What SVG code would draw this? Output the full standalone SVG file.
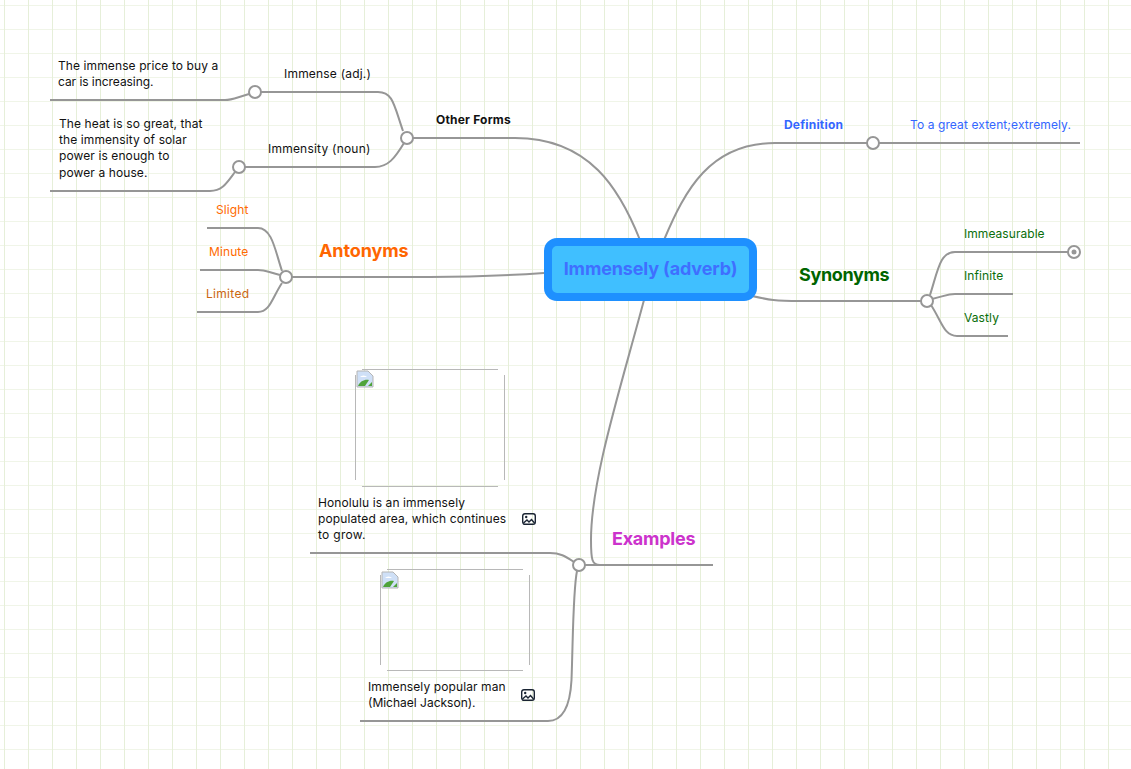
<svg xmlns="http://www.w3.org/2000/svg" width="1131" height="769" viewBox="0 0 1131 769">
<style>
text{font-family:Inter,"Noto Sans","Liberation Sans",sans-serif;font-size:12px;fill:#111;letter-spacing:.1px}
.b{font-weight:700;letter-spacing:.2px}
.big{font-weight:700;font-size:18px;letter-spacing:-.15px}
.g{fill:#0a6e0a}
.o{fill:#ff6a00}
.bl{fill:#3366ff}
.c{fill:none;stroke:#969696;stroke-width:2}
.n{fill:#fff;stroke:#969696;stroke-width:2}
.f{fill:none;stroke:#b8b8b8;stroke-width:1}
.i{fill:none;stroke:#1a2433;stroke-width:1.4}
.vg{stroke:#e6efd9;stroke-width:1}
.hg{stroke:#f0f5e8;stroke-width:1}
</style>
<defs>
<pattern id="vp" width="24" height="24" patternUnits="userSpaceOnUse"><path d="M0 5.5H24" class="hg"/><path d="M4.5 0V24" class="vg"/></pattern>
<g id="pic"><rect x="0.7" y="0.7" width="12.6" height="10.6" rx="2.2" class="i"/><circle cx="4.2" cy="4" r="1.2" fill="#1a2433"/><path d="M1.5 10L5 7l2 2 2.5-2.5L12.500 10" class="i"/></g>
<g id="broken"><path d="M0 0H11L16 5V16H0Z" fill="#cfe0f7" stroke="#b5b5b5" stroke-width="1"/><path d="M1 15C3 10 8 8 12 9L8 15Z" fill="#4fa33a"/><path d="M3 6a4 3 0 0 1 7 0Z" fill="#fff"/><path d="M11 15l4-4v4Z" fill="#4fa33a"/></g>
</defs>
<rect width="1131" height="769" fill="#fff"/>
<rect width="1131" height="769" fill="url(#vp)"/>
<g id="connectors">
<path class="c" d="M640 240C620 190 590 138 515 138H407"/>
<path class="c" d="M664 240C685 190 710 143 775 143H1080"/>
<path class="c" d="M544 273C500 276 470 277 430 277H286"/>
<path class="c" d="M752 296C770 300 775 301 800 301H927"/>
<path class="c" d="M644 300C620 390 591 480 591 540C591 560 592 565 600 565M579 565H713"/>
<path class="c" d="M403 131C394 105 393 92 378 92H255"/>
<path class="c" d="M404 143C395 158 388 167 375 167H239"/>
<path class="c" d="M249 94C235 98 232 100 225 100H50"/>
<path class="c" d="M235 172C226 184 222 191 210 191H50"/>
<path class="c" d="M282 271C275 250 272 228 258 228H207"/>
<path class="c" d="M280 275C268 272 265 270 258 270H200"/>
<path class="c" d="M282 283C272 298 270 312 258 312H197"/>
<path class="c" d="M930 295C938 270 940 252 955 252H1074"/>
<path class="c" d="M932 299C945 296 947 294 955 294H1013"/>
<path class="c" d="M931 305C942 322 944 336 957 336H1008"/>
<path class="c" d="M574 562C565 556 560 553 550 553H310"/>
<path class="c" d="M577 571C573 590 573 640 571.500 680C570 708 562 721 548 721H360"/>
</g>
<g id="center"><rect x="548" y="242" width="205" height="55" rx="9" fill="#40bfff" stroke="#1e90ff" stroke-width="8"/><text x="650.5" y="274.500" text-anchor="middle" class="big" style="fill:#3f6fff">Immensely (adverb)</text></g>
<g id="other-forms"><circle class="n" cx="407" cy="138" r="6"/><text x="436" y="123.500" class="b">Other Forms</text></g>
<g id="immense"><circle class="n" cx="255" cy="92" r="6"/><text x="284" y="77.500" style="letter-spacing:.2px">Immense (adj.)</text></g>
<g id="immensity"><circle class="n" cx="239" cy="167" r="6"/><text x="268" y="152.500" style="letter-spacing:.22px">Immensity (noun)</text></g>
<g id="immense-ex"><text x="58" y="70">The immense price to buy a</text><text x="58" y="86" style="letter-spacing:-.05px">car is increasing.</text></g>
<g id="immensity-ex"><text x="59" y="128">The heat is so great, that</text><text x="59" y="144">the immensity of solar</text><text x="59" y="160">power is enough to</text><text x="59" y="177">power a house.</text></g>
<g id="definition"><circle class="n" cx="873" cy="143" r="6"/><text x="784" y="129" class="b bl">Definition</text></g>
<g id="definition-text"><text x="910" y="129" class="bl">To a great extent;extremely.</text></g>
<g id="antonyms"><circle class="n" cx="286" cy="277" r="6"/><text x="319" y="257" class="big" style="fill:#ff6600;letter-spacing:-.1px">Antonyms</text></g>
<g id="slight"><text x="216" y="214" class="o">Slight</text></g>
<g id="minute"><text x="209" y="256" class="o">Minute</text></g>
<g id="limited"><text x="206" y="298" style="fill:#cc6610;letter-spacing:.3px">Limited</text></g>
<g id="synonyms"><circle class="n" cx="927" cy="301" r="6"/><text x="799" y="281" class="big" style="fill:#006400;letter-spacing:-.35px">Synonyms</text></g>
<g id="immeasurable"><circle class="n" cx="1074" cy="252" r="6"/><circle cx="1074" cy="252" r="2.500" fill="#969696"/><text x="964" y="238" class="g" style="letter-spacing:.05px">Immeasurable</text></g>
<g id="infinite"><text x="964" y="280" class="g">Infinite</text></g>
<g id="vastly"><text x="964" y="322" class="g">Vastly</text></g>
<g id="examples"><circle class="n" cx="579" cy="565" r="6"/><text x="612" y="545" class="big" style="fill:#cc33cc;letter-spacing:-.25px">Examples</text></g>
<g id="example-1">
<path class="f" d="M362 369.500H498M362 486.500H498M355.500 375V480M504.500 375V480"/>
<use href="#broken" x="357" y="371"/>
<text x="318" y="507">Honolulu is an immensely</text><text x="318" y="523" style="letter-spacing:.12px">populated area, which continues</text><text x="318" y="539" style="letter-spacing:.3px">to grow.</text>
<use href="#pic" x="522" y="513"/>
</g>
<g id="example-2">
<path class="f" d="M387 569.500H523M387 670.500H523M380.500 575V665M529.500 575V665"/>
<use href="#broken" x="382" y="572"/>
<text x="368" y="691">Immensely popular man</text><text x="368" y="707" style="letter-spacing:0">(Michael Jackson).</text>
<use href="#pic" x="521" y="689"/>
</g>
</svg>
